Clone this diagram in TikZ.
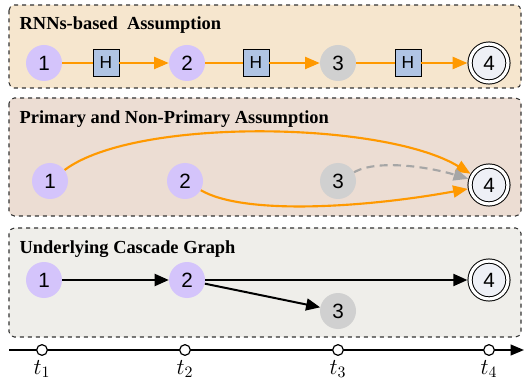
\RequirePackage{fix-cm}
\documentclass[tikz,border=0pt]{standalone}
\usepackage{fontspec}
\setmainfont{Liberation Serif}
\newfontfamily\numfont{Liberation Sans}
\usetikzlibrary{arrows.meta}

\definecolor{rnnbg}{RGB}{246,230,206}
\definecolor{primbg}{RGB}{236,221,211}
\definecolor{graphbg}{RGB}{239,238,234}
\definecolor{userpurple}{RGB}{212,196,251}
\definecolor{lategray}{RGB}{208,208,208}
\definecolor{targetfill}{RGB}{238,240,246}
\definecolor{hiddenblue}{RGB}{176,196,228}
\definecolor{floworange}{RGB}{255,153,0}

\begin{document}
\begin{tikzpicture}[
    x=0.75pt, y=-0.75pt,
    every node/.style={font=\fontsize{13}{15}\selectfont},
    panel/.style={draw=black!80, thick, dashed, rounded corners=4pt},
    title/.style={anchor=west, font=\fontsize{13.8}{16}\selectfont\bfseries},
    user/.style={circle, fill=userpurple, minimum size=27pt, inner sep=0pt,
      font=\numfont\fontsize{15.5}{18}\selectfont},
    late/.style={user, fill=lategray},
    target/.style={user, fill=targetfill, draw=black, line width=0.75pt,
      double=white, double distance=2.4pt, minimum size=28.4pt, outer sep=2pt},
    hidden/.style={rectangle, draw=black, line width=0.6pt, fill=hiddenblue,
      minimum width=19.5pt, minimum height=20.5pt, inner sep=0pt,
      font=\numfont\fontsize{13}{15}\selectfont},
    flow/.style={draw=floworange, line width=1.6pt},
    flowarrow/.style={flow, -{Triangle[length=11pt, width=9pt]}},
    guess/.style={draw=black!35, line width=1.6pt, dash pattern=on 6pt off 4pt,
      -{Triangle[length=11pt, width=9pt]}},
    edge/.style={draw=black, line width=1.5pt, -{Triangle[length=10.5pt, width=9pt]}}
]
  \useasboundingbox (0,0) rectangle (524,388);
  \def\xleft{9}
  \def\xright{521}

  % panels
  \filldraw[panel, fill=rnnbg]   (\xleft, 5)   rectangle (\xright, 88);
  \filldraw[panel, fill=primbg]  (\xleft, 98)  rectangle (\xright, 216);
  \filldraw[panel, fill=graphbg] (\xleft, 228) rectangle (\xright, 337);

  \node[title] (t-rnn)   at (15, 25)  {RNNs-based~~Assumption};
  \node[title] (t-prim)  at (15, 119) {Primary and Non-Primary Assumption};
  \node[title] (t-graph) at (15, 249) {Underlying Cascade Graph};

  % RNNs-based
  \node[user]   (a1) at (44, 63)  {1};
  \node[hidden] (h1) at (106, 63) {H};
  \node[user]   (a2) at (187, 63) {2};
  \node[hidden] (h2) at (256, 63) {H};
  \node[late]   (a3) at (338, 63) {3};
  \node[hidden] (h3) at (408, 63) {H};
  \node[target] (a4) at (489, 63) {4};

  \draw[flow] (a1) -- (h1);
  \draw[flowarrow] (h1) -- (a2);
  \draw[flow] (a2) -- (h2);
  \draw[flowarrow] (h2) -- (a3);
  \draw[flow] (a3) -- (h3);
  \draw[flowarrow] (h3) -- (a4);

  % primary and non-primary
  \node[user]   (b1) at (50, 181)  {1};
  \node[user]   (b2) at (185, 181) {2};
  \node[late]   (b3) at (338, 181) {3};
  \node[target] (b4) at (489, 185) {4};

  \draw[flowarrow] (b1) .. controls +(85,-64) and +(-105,-64) .. (b4);
  \draw[flowarrow] (b2) .. controls +(60,35) and +(-120,22) .. (b4);
  \draw[guess] (b3) .. controls +(40,-22) and +(-60,-18) .. (b4);

  % underlying graph
  \node[user]   (c1) at (44, 280)  {1};
  \node[user]   (c2) at (187, 280) {2};
  \node[late]   (c3) at (338, 311) {3};
  \node[target] (c4) at (489, 280) {4};

  \draw[edge] (c1) -- (c2);
  \draw[edge] (c2) -- (c4);
  \draw[edge] (c2) -- (c3);

  % time axis
  \coordinate (axis-start) at (\xleft, 350);
  \coordinate (axis-end) at (524, 350);
  \draw[line width=1.5pt, -{Triangle[length=10pt, width=8pt]}] (axis-start) -- (axis-end);
  \foreach \x/\i in {42/1, 185/2, 338/3, 489/4} {
    \node[circle, draw=black, line width=0.9pt, fill=white, minimum size=8pt,
      inner sep=0pt] (tick\i) at (\x, 350) {};
    \node[below=0pt, font=\fontsize{17}{20}\selectfont] (time\i) at (tick\i.south) {$t_{\i}$};
  }
\end{tikzpicture}
\end{document}
